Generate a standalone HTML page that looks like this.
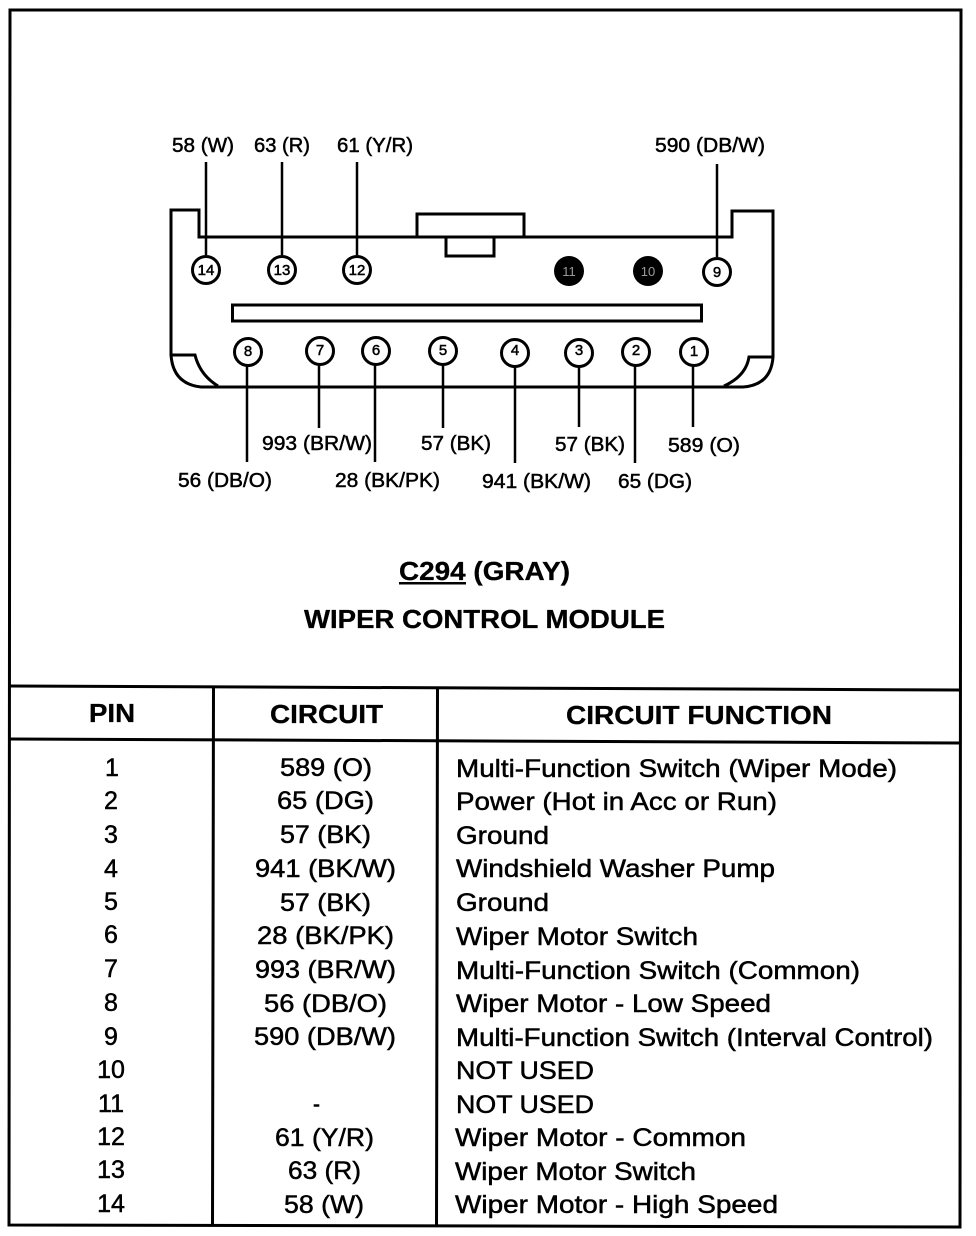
<!DOCTYPE html>
<html>
<head>
<meta charset="utf-8">
<style>
html,body{margin:0;padding:0;background:#fff;}
svg{display:block;}
text{font-family:"Liberation Sans",sans-serif;fill:#000;stroke:#000;stroke-width:.5;}
.l{font-size:20px;}
.t{font-size:25px;}
.h{font-size:26px;font-weight:bold;stroke-width:.3;}
.p{font-size:15px;text-anchor:middle;stroke-width:.5;}
.w{fill:#fff;fill-opacity:.6;stroke:none;font-size:13px;text-anchor:middle;}
.s{fill:none;stroke:#000;}
</style>
</head>
<body>
<svg width="976" height="1236" viewBox="0 0 976 1236" xmlns="http://www.w3.org/2000/svg">
<rect width="976" height="1236" fill="#fff"/>

<!-- outer frame -->
<path class="s" stroke-width="3" d="M10 10H961L960 1227L9 1225Z"/>
<path class="s" stroke-width="3" d="M10 686L961 690"/>
<path class="s" stroke-width="3" d="M10 739L961 743"/>
<path class="s" stroke-width="3" d="M213.500 687L212.500 1225M437.500 688L436.500 1226"/>

<!-- connector body -->
<path class="s" stroke-width="3" d="M199 237V210H171V355Q173 384 201 387H743Q771 385 773 357V211H732V237Z"/>
<path class="s" stroke-width="3" d="M171 355H195Q200 375 218 386"/>
<path class="s" stroke-width="3" d="M773 357H749Q746 376 724 386"/>
<path class="s" stroke-width="3" d="M417 237V214H524V237"/>
<path class="s" stroke-width="3" d="M446 237V256H494V237"/>
<rect class="s" stroke-width="3" x="232.500" y="305" width="469" height="16"/>

<!-- wires -->
<path class="s" stroke-width="2.500" d="M206 162V255M282 162V255M357 162V255M717 164V257M247 365V462M319 365V428M375 365V462M443 365V428M515 365V463M579 365V427M635 365V463M693 365V427"/>

<!-- pins -->
<g fill="#fff" stroke="#000" stroke-width="3">
<circle cx="206" cy="270" r="13.500"/><circle cx="282" cy="270" r="13.500"/><circle cx="357" cy="270" r="13.500"/>
<circle cx="717" cy="272" r="13.500"/>
<circle cx="248" cy="352" r="13.500"/><circle cx="320" cy="351" r="13.500"/><circle cx="376" cy="351" r="13.500"/>
<circle cx="443" cy="351" r="13.500"/><circle cx="515" cy="353" r="13.500"/><circle cx="579" cy="353" r="13.500"/>
<circle cx="636" cy="352" r="13.500"/><circle cx="694" cy="352" r="13.500"/>
</g>
<circle cx="569" cy="271" r="15" fill="#000"/>
<circle cx="648" cy="271" r="15" fill="#000"/>
<text class="w" x="569" y="276">11</text>
<text class="w" x="648" y="276">10</text>

<text class="p" x="206" y="275">14</text>
<text class="p" x="282" y="275">13</text>
<text class="p" x="357" y="275">12</text>
<text class="p" x="717" y="277">9</text>
<text class="p" x="248" y="356">8</text>
<text class="p" x="320" y="355">7</text>
<text class="p" x="376" y="355">6</text>
<text class="p" x="443" y="355">5</text>
<text class="p" x="515" y="355">4</text>
<text class="p" x="579" y="355">3</text>
<text class="p" x="636" y="355">2</text>
<text class="p" x="694" y="356">1</text>

<!-- wire labels -->
<text class="l" x="172" y="152" textLength="62" lengthAdjust="spacingAndGlyphs">58 (W)</text>
<text class="l" x="254" y="152" textLength="56" lengthAdjust="spacingAndGlyphs">63 (R)</text>
<text class="l" x="337" y="152" textLength="76" lengthAdjust="spacingAndGlyphs">61 (Y/R)</text>
<text class="l" x="655" y="152" textLength="110" lengthAdjust="spacingAndGlyphs">590 (DB/W)</text>
<text class="l" x="262" y="450" textLength="110" lengthAdjust="spacingAndGlyphs">993 (BR/W)</text>
<text class="l" x="421" y="450" textLength="70" lengthAdjust="spacingAndGlyphs">57 (BK)</text>
<text class="l" x="555" y="451" textLength="70" lengthAdjust="spacingAndGlyphs">57 (BK)</text>
<text class="l" x="668" y="452" textLength="72" lengthAdjust="spacingAndGlyphs">589 (O)</text>
<text class="l" x="178" y="487" textLength="94" lengthAdjust="spacingAndGlyphs">56 (DB/O)</text>
<text class="l" x="335" y="487" textLength="105" lengthAdjust="spacingAndGlyphs">28 (BK/PK)</text>
<text class="l" x="482" y="488" textLength="109" lengthAdjust="spacingAndGlyphs">941 (BK/W)</text>
<text class="l" x="618" y="488" textLength="74" lengthAdjust="spacingAndGlyphs">65 (DG)</text>

<!-- title -->
<text class="h" x="399" y="580" textLength="171" lengthAdjust="spacingAndGlyphs">C294 (GRAY)</text>
<rect x="399" y="582" width="67" height="2.500" fill="#000"/>
<text class="h" x="304" y="628" textLength="361" lengthAdjust="spacingAndGlyphs">WIPER CONTROL MODULE</text>

<!-- headers -->
<text class="h" x="89" y="722" textLength="46" lengthAdjust="spacingAndGlyphs">PIN</text>
<text class="h" x="270" y="723" textLength="113" lengthAdjust="spacingAndGlyphs">CIRCUIT</text>
<text class="h" x="566" y="724" textLength="266" lengthAdjust="spacingAndGlyphs">CIRCUIT FUNCTION</text>

<!-- pin column -->
<g text-anchor="middle">
<text class="t" x="112" y="776">1</text>
<text class="t" x="111" y="809">2</text>
<text class="t" x="111" y="843">3</text>
<text class="t" x="111" y="877">4</text>
<text class="t" x="111" y="910">5</text>
<text class="t" x="111" y="943">6</text>
<text class="t" x="111" y="977">7</text>
<text class="t" x="111" y="1011">8</text>
<text class="t" x="111" y="1045">9</text>
<text class="t" x="111" y="1078">10</text>
<text class="t" x="111" y="1112">11</text>
<text class="t" x="111" y="1145">12</text>
<text class="t" x="111" y="1178">13</text>
<text class="t" x="111" y="1212">14</text>
</g>

<!-- circuit column -->
<text class="t" x="280" y="776" textLength="92" lengthAdjust="spacingAndGlyphs">589 (O)</text>
<text class="t" x="277" y="809" textLength="97" lengthAdjust="spacingAndGlyphs">65 (DG)</text>
<text class="t" x="280" y="843" textLength="91" lengthAdjust="spacingAndGlyphs">57 (BK)</text>
<text class="t" x="255" y="877" textLength="141" lengthAdjust="spacingAndGlyphs">941 (BK/W)</text>
<text class="t" x="280" y="911" textLength="91" lengthAdjust="spacingAndGlyphs">57 (BK)</text>
<text class="t" x="257" y="944" textLength="137" lengthAdjust="spacingAndGlyphs">28 (BK/PK)</text>
<text class="t" x="255" y="978" textLength="141" lengthAdjust="spacingAndGlyphs">993 (BR/W)</text>
<text class="t" x="264" y="1012" textLength="123" lengthAdjust="spacingAndGlyphs">56 (DB/O)</text>
<text class="t" x="254" y="1045" textLength="142" lengthAdjust="spacingAndGlyphs">590 (DB/W)</text>
<text class="t" x="313" y="1112" textLength="7" lengthAdjust="spacingAndGlyphs">-</text>
<text class="t" x="275" y="1146" textLength="99" lengthAdjust="spacingAndGlyphs">61 (Y/R)</text>
<text class="t" x="288" y="1179" textLength="73" lengthAdjust="spacingAndGlyphs">63 (R)</text>
<text class="t" x="284" y="1213" textLength="80" lengthAdjust="spacingAndGlyphs">58 (W)</text>

<!-- function column -->
<text class="t" x="456" y="777" textLength="441" lengthAdjust="spacingAndGlyphs">Multi-Function Switch (Wiper Mode)</text>
<text class="t" x="456" y="810" textLength="321" lengthAdjust="spacingAndGlyphs">Power (Hot in Acc or Run)</text>
<text class="t" x="456" y="844" textLength="93" lengthAdjust="spacingAndGlyphs">Ground</text>
<text class="t" x="456" y="877" textLength="319" lengthAdjust="spacingAndGlyphs">Windshield Washer Pump</text>
<text class="t" x="456" y="911" textLength="93" lengthAdjust="spacingAndGlyphs">Ground</text>
<text class="t" x="456" y="945" textLength="242" lengthAdjust="spacingAndGlyphs">Wiper Motor Switch</text>
<text class="t" x="456" y="979" textLength="404" lengthAdjust="spacingAndGlyphs">Multi-Function Switch (Common)</text>
<text class="t" x="456" y="1012" textLength="315" lengthAdjust="spacingAndGlyphs">Wiper Motor - Low Speed</text>
<text class="t" x="456" y="1046" textLength="477" lengthAdjust="spacingAndGlyphs">Multi-Function Switch (Interval Control)</text>
<text class="t" x="456" y="1079" textLength="138" lengthAdjust="spacingAndGlyphs">NOT USED</text>
<text class="t" x="456" y="1113" textLength="138" lengthAdjust="spacingAndGlyphs">NOT USED</text>
<text class="t" x="455" y="1146" textLength="291" lengthAdjust="spacingAndGlyphs">Wiper Motor - Common</text>
<text class="t" x="455" y="1180" textLength="241" lengthAdjust="spacingAndGlyphs">Wiper Motor Switch</text>
<text class="t" x="455" y="1213" textLength="323" lengthAdjust="spacingAndGlyphs">Wiper Motor - High Speed</text>
</svg>
</body>
</html>
